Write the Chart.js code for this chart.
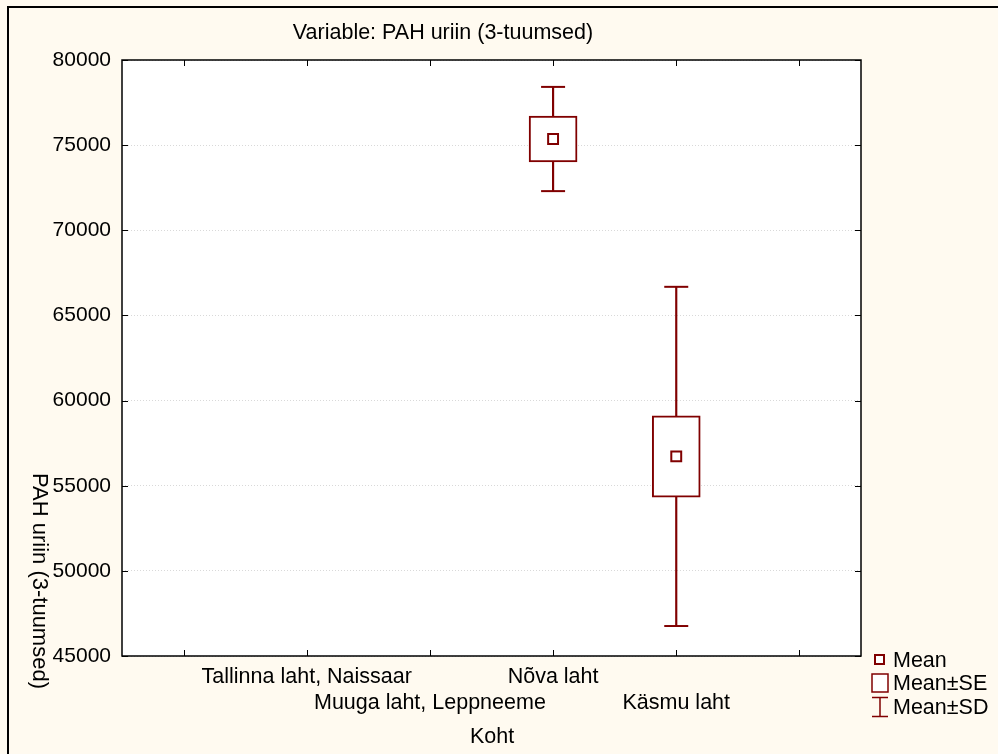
<!DOCTYPE html>
<html>
<head>
<meta charset="utf-8">
<title>PAH uriin (3-tuumsed)</title>
<script src="https://cdn.jsdelivr.net/npm/chart.js@4.4.1/dist/chart.umd.min.js"></script>
<style>
  html, body { margin: 0; padding: 0; }
  body { font-family: "Liberation Sans", Arial, sans-serif; }
  #wrap {
    position: relative; width: 998px; height: 754px; overflow: hidden;
    background: #fffaf0;
  }
  #frameLeft { position: absolute; left: 7px; top: 6px; width: 2px; height: 760px; background: #000; }
  #frameTop { position: absolute; left: 7px; top: 6px; width: 1000px; height: 2px; background: #000; }
  #chart { position: absolute; left: 0; top: 0; }
  .lbl { position: absolute; color: #000; font-size: 21.5px; white-space: nowrap; line-height: 1; }
  #title { left: 0; width: 886px; top: 22px; text-align: center; }
  #ytitle { left: 40px; top: 581px; font-size: 22px; transform: translate(-50%, -50%) rotate(90deg); }
  #xtitle { left: 0; width: 984px; top: 726px; text-align: center; }
  .leg { position: absolute; left: 870px; height: 22px; display: flex; align-items: center; }
  .leg svg { width: 20px; height: 22px; margin-right: 3px; }
  .leg span { font-size: 21.5px; }
</style>
</head>
<body>
<div id="wrap">
  <div id="frameLeft"></div>
  <div id="frameTop"></div>
  <canvas id="chart" width="998" height="754"></canvas>
  <div class="lbl" id="title">Variable: PAH uriin (3-tuumsed)</div>
  <div class="lbl" id="ytitle">PAH uriin (3-tuumsed)</div>
  <div class="lbl" id="xtitle">Koht</div>

  <div class="leg" style="top:649px">
    <svg viewBox="0 0 20 22"><rect x="5" y="6" width="9" height="9" fill="#fff" stroke="#800000" stroke-width="2"/></svg>
    <span>Mean</span>
  </div>
  <div class="leg" style="top:672px">
    <svg viewBox="0 0 20 22"><rect x="2" y="2" width="16" height="18" fill="#fff" stroke="#800000" stroke-width="1.5"/></svg>
    <span>Mean±SE</span>
  </div>
  <div class="leg" style="top:696px">
    <svg viewBox="0 0 20 22"><path d="M2 1.5 H18 M10 1.5 V20.5 M2 20.5 H18" fill="none" stroke="#800000" stroke-width="1.5"/></svg>
    <span>Mean±SD</span>
  </div>
</div>

<script>
// data
const categories = ['Tallinna laht, Naissaar', 'Muuga laht, Leppneeme', 'Nõva laht', 'Käsmu laht'];
const means = [null, null, 75360, 56720];
const se = [null, null, 1350, 2390];
const sd = [null, null, 3060, 9960];
const yTicks = [45000, 50000, 55000, 60000, 65000, 70000, 75000, 80000];

const RED = '#800000';
const FONT = '"Liberation Sans", Arial, sans-serif';

// the axis has an empty slot on both ends
const pad = a => [null, ...a, null];
const labels = ['', ...categories, ''];
const m = pad(means), s1 = pad(se), s2 = pad(sd);

const range = (spread) => m.map((v, i) => v == null ? null : [v - spread[i], v + spread[i]]);
const edge = (sign) => m.map((v, i) => v == null ? null : v + sign * s2[i]);

// white plot area, frame and inward tick marks
const plotFrame = {
  id: 'plotFrame',
  beforeDraw(chart) {
    const { ctx, chartArea: a } = chart;
    ctx.save();
    ctx.fillStyle = '#fff';
    ctx.fillRect(a.left, a.top, a.right - a.left, a.bottom - a.top);
    ctx.restore();
  },
  afterDraw(chart) {
    const { ctx, chartArea: a, scales } = chart;
    ctx.save();
    ctx.strokeStyle = '#000';
    ctx.lineWidth = 1.5;
    ctx.strokeRect(a.left, a.top, a.right - a.left, a.bottom - a.top);
    ctx.lineWidth = 1;
    ctx.beginPath();
    scales.x.ticks.forEach((t, i) => {
      const x = Math.round(scales.x.getPixelForTick(i)) + 0.5;
      ctx.moveTo(x, a.bottom); ctx.lineTo(x, a.bottom - 6);
      ctx.moveTo(x, a.top); ctx.lineTo(x, a.top + 6);
    });
    scales.y.ticks.forEach((t, i) => {
      const y = Math.round(scales.y.getPixelForTick(i)) + 0.5;
      ctx.moveTo(a.left, y); ctx.lineTo(a.left + 6, y);
      ctx.moveTo(a.right, y); ctx.lineTo(a.right - 6, y);
    });
    ctx.stroke();
    ctx.restore();
  }
};

new Chart(document.getElementById('chart'), {
  type: 'bar',
  data: {
    labels: labels,
    datasets: [
      {
        label: 'Mean±SD',
        data: range(s2),
        backgroundColor: RED,
        borderWidth: 0,
        barThickness: 1.5,
        grouped: false,
        order: 5
      },
      {
        label: 'Mean±SE',
        data: range(s1),
        backgroundColor: '#fff',
        borderColor: RED,
        borderWidth: 2,
        borderSkipped: false,
        barThickness: 48,
        grouped: false,
        order: 4
      },
      {
        type: 'line',
        label: 'SD high',
        data: edge(1),
        showLine: false,
        pointStyle: 'line',
        pointRadius: 12,
        pointBorderWidth: 2,
        borderColor: RED,
        order: 3
      },
      {
        type: 'line',
        label: 'SD low',
        data: edge(-1),
        showLine: false,
        pointStyle: 'line',
        pointRadius: 12,
        pointBorderWidth: 2,
        borderColor: RED,
        order: 3
      },
      {
        type: 'line',
        label: 'Mean',
        data: m,
        showLine: false,
        pointStyle: 'rect',
        pointRadius: 7,
        pointBorderWidth: 2,
        borderColor: RED,
        backgroundColor: '#fff',
        order: 1
      }
    ]
  },
  options: {
    responsive: false,
    animation: false,
    events: [],
    layout: { padding: { left: 0, top: 60, right: 137, bottom: 38 } },
    plugins: { legend: { display: false }, tooltip: { enabled: false }, title: { display: false } },
    scales: {
      x: {
        type: 'category',
        offset: true,
        grid: { display: false, drawTicks: false },
        border: { display: false },
        afterFit: s => { s.height = 60; },
        ticks: {
          autoSkip: false,
          maxRotation: 0,
          minRotation: 0,
          padding: 9,
          color: '#000',
          font: { family: FONT, size: 21.5, lineHeight: 1.17 },
          // Statistica staggers the category labels on two rows
          callback: (v, i) => (i % 2 === 0 ? ['', labels[i]] : labels[i])
        }
      },
      y: {
        min: yTicks[0],
        max: yTicks[yTicks.length - 1],
        afterBuildTicks: s => { s.ticks = yTicks.map(v => ({ value: v })); },
        afterFit: s => { s.width = 122; },
        grid: { color: '#d9d9d9', drawTicks: false, lineWidth: 1 },
        border: { display: false, dash: [1, 2] },
        ticks: {
          padding: 11,
          color: '#000',
          font: { family: FONT, size: 21 },
          callback: v => String(v)
        }
      }
    }
  },
  plugins: [plotFrame]
});
</script>
</body>
</html>
